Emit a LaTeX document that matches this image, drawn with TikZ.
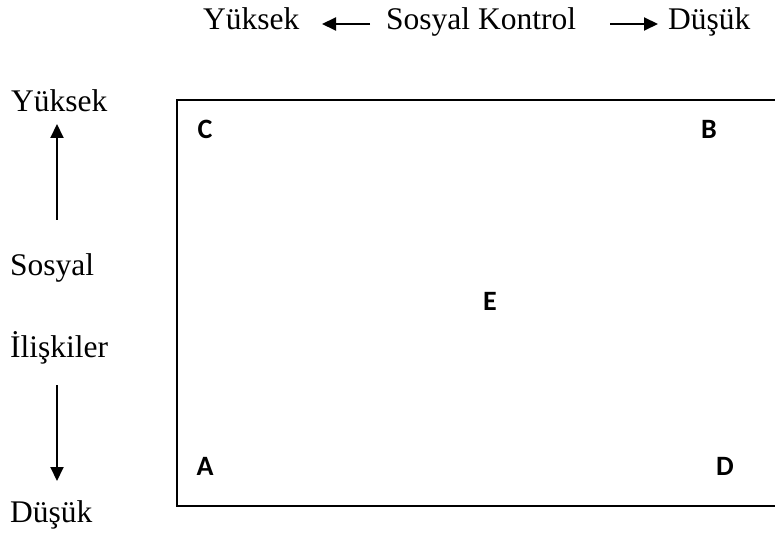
\documentclass[tikz,border=0pt]{standalone}
\usepackage{fontspec}
\setmainfont{Liberation Serif}
\newfontfamily\lettersfont{Carlito}
\usetikzlibrary{arrows.meta}
\tikzset{
  lbl/.style={anchor=base west, inner sep=0pt, font=\fontsize{31.5}{36}\selectfont},
  corner/.style={inner sep=0pt, font=\lettersfont\bfseries\fontsize{28}{32}\selectfont},
  axis/.style={line width=2pt, -{Triangle[length=14pt,width=13pt]}},
  frame/.style={line width=2pt}
}
\begin{document}
\begin{tikzpicture}[x=1pt,y=-1pt]
\useasboundingbox (0,0) rectangle (775,534);
% horizontal axis: social control
\node[lbl] (hY) at (203,30) {Yüksek};
\node[lbl] (hS) at (386,30) {Sosyal Kontrol};
\node[lbl] (hD) at (668,30) {Düşük};
\coordinate (hl1) at (370,24);
\coordinate (hl2) at (322,24);
\coordinate (hr1) at (610,24);
\coordinate (hr2) at (658,24);
\draw[axis] (hl1) -- (hl2);
\draw[axis] (hr1) -- (hr2);
% vertical axis: social relations
\node[lbl] (vY) at (11,112) {Yüksek};
\node[lbl] (vS) at (10,276) {Sosyal};
\node[lbl] (vI) at (10,357) {İlişkiler};
\node[lbl] (vD) at (10,522) {Düşük};
\coordinate (vu1) at (57,220);
\coordinate (vu2) at (57,124);
\coordinate (vd1) at (57,385);
\coordinate (vd2) at (57,481);
\draw[axis] (vu1) -- (vu2);
\draw[axis] (vd1) -- (vd2);
% frame, open past the right border
\draw[frame] (800,100) -- (177,100) -- (177,506) -- (800,506);
% regions
\node[corner] (C) at (205,129) {C};
\node[corner] (B) at (709,129) {B};
\node[corner] (E) at (490,301) {E};
\node[corner] (A) at (205,466) {A};
\node[corner] (D) at (725,466) {D};
\end{tikzpicture}
\end{document}
